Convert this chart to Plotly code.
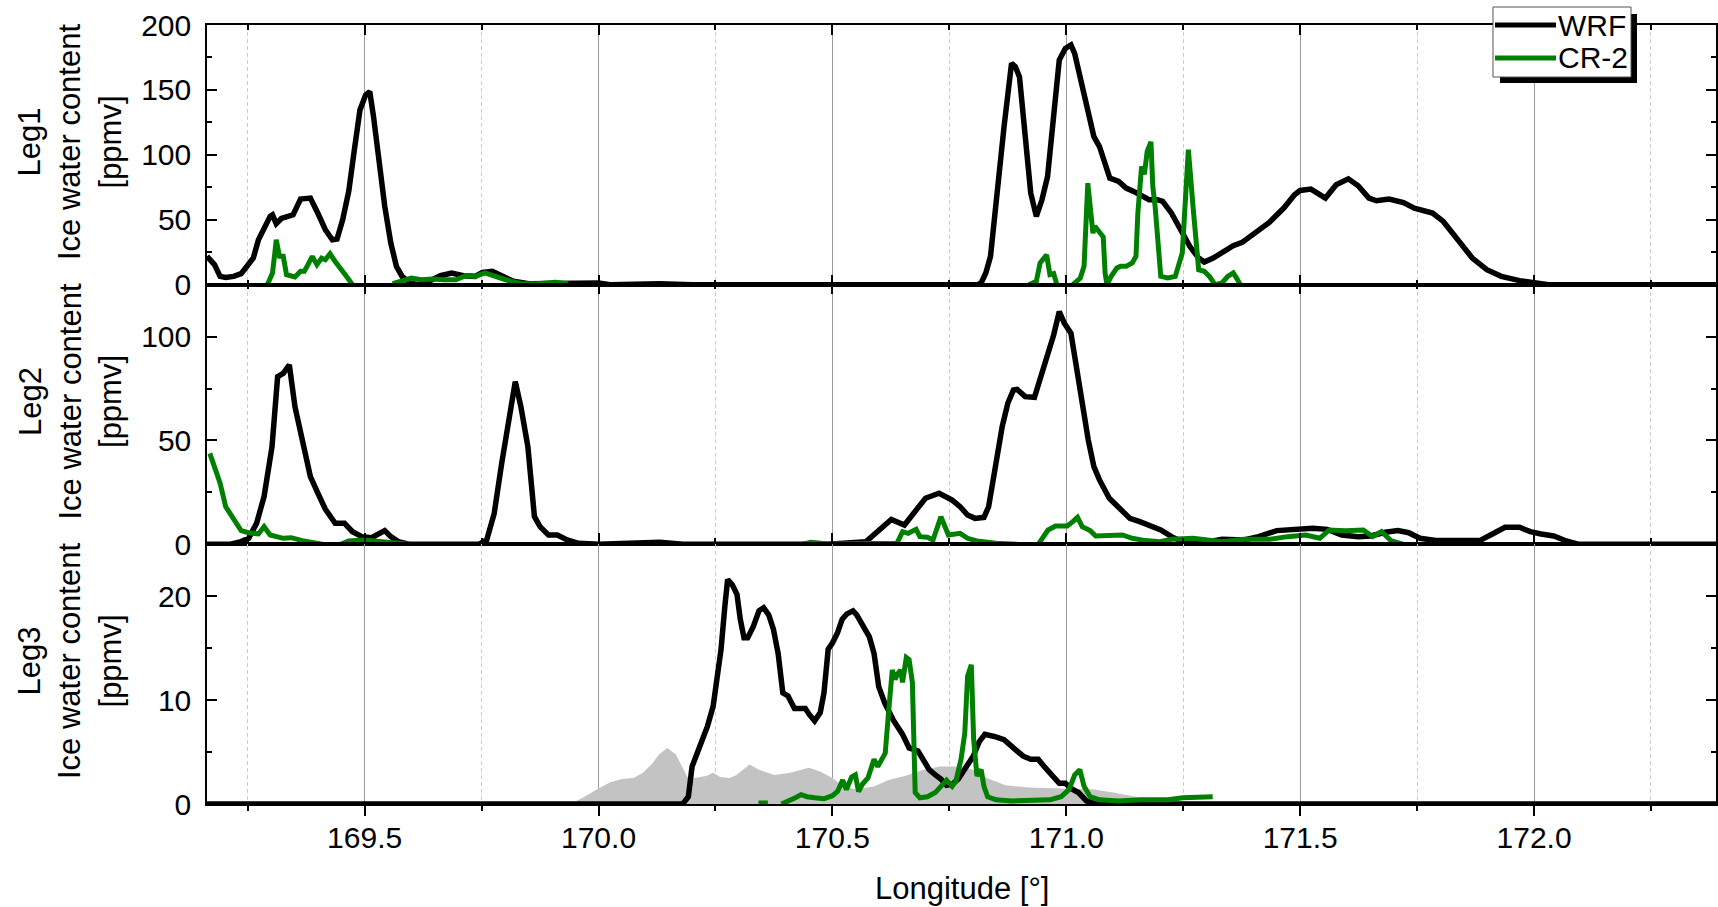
import plotly.graph_objects as go
from plotly.subplots import make_subplots

N = None
# ---------------- Panel 1 (Leg1) ----------------
wrf1_lon = [169.163, 169.179, 169.191, 169.203, 169.22, 169.236, 169.248, 169.262, 169.273, 169.285,
            169.298, 169.303, 169.311, 169.322, 169.336, 169.347, 169.363, 169.384, 169.4, 169.416,
            169.431, 169.441, 169.453, 169.466, 169.478, 169.49, 169.502, 169.511, 169.519, 169.531,
            169.543, 169.556, 169.568, 169.58, 169.597, 169.613, 169.638, 169.662, 169.686, 169.711,
            169.736, 169.752, 169.773, 169.793, 169.818, 169.851, 169.908, 169.949, 170.0, 170.025,
            170.13, 170.2, 170.81, 170.818, 170.828, 170.838, 170.85, 170.867, 170.883, 170.891,
            170.9, 170.912, 170.924, 170.936, 170.948, 170.96, 170.973, 170.985, 170.998, 171.01,
            171.018, 171.03, 171.047, 171.059, 171.071, 171.083, 171.093, 171.112, 171.128, 171.144,
            171.161, 171.177, 171.195, 171.206, 171.225, 171.245, 171.264, 171.283, 171.295, 171.314,
            171.333, 171.357, 171.376, 171.403, 171.434, 171.465, 171.488, 171.5, 171.523, 171.554,
            171.577, 171.603, 171.624, 171.647, 171.663, 171.69, 171.721, 171.744, 171.783, 171.806,
            171.837, 171.868, 171.899, 171.93, 171.969, 172.0, 172.031, 172.389]
wrf1_val = [21.8, 15.4, 6.4, 5.6, 6.4, 8.5, 14, 20.5, 34.6, 43.6,
            52.6, 53.8, 47, 51, 53, 53.8, 66, 66.7, 55, 42.3,
            34.6, 35.1, 50, 71.8, 103.8, 134.6, 146, 148.7, 129.5, 93.6,
            60.3, 32, 14.1, 6.4, 1.3, 0, 2.6, 6.9, 9, 6.9,
            6.4, 9.5, 10.3, 6.9, 2.6, 0.8, 0.8, 1.8, 1.3, 0,
            0.8, 0, 0, 1.3, 9, 21.8, 65.4, 121.8, 170.5, 168,
            160, 116.7, 70.5, 52.6, 65.4, 83.3, 134.6, 173, 182, 184.6,
            178, 160, 134.6, 114, 106.4, 91, 82, 79.5, 74.4, 71.8,
            68, 65.4, 65.4, 64.1, 55.1, 42.3, 29.5, 20.5, 17.4, 20.5,
            24.4, 30, 32.6, 39.2, 48, 59, 69.2, 72.6, 73.6, 66.7,
            77, 81.5, 76.2, 66.7, 64.6, 65.9, 63.3, 59, 55.1, 48.7,
            34.6, 20.5, 11.5, 6.4, 3.1, 1.3, 0, 0]

cr1_lon = [169.292, 169.303, 169.308, 169.311, 169.318, 169.326, 169.333, 169.351, 169.363, 169.371,
           169.375, 169.388, 169.398, 169.408, 169.416, 169.426, 169.437, 169.449, 169.461, 169.474, N,
           169.56, 169.58, 169.6, 169.621, 169.646, 169.67, 169.695, 169.716, 169.736, 169.757,
           169.777, 169.802, 169.834, 169.867, 169.908, 169.935, N,
           170.92, 170.936, 170.944, 170.958, 170.965, 170.973, 170.98, N,
           171.014, 171.03, 171.038, 171.046, 171.057, 171.061, 171.067, 171.079, 171.083, 171.087,
           171.096, 171.108, 171.116, 171.128, 171.141, 171.149, 171.153, 171.161, 171.167, 171.173,
           171.181, 171.185, 171.19, 171.202, 171.217, 171.233, 171.248, 171.261, 171.271, 171.283,
           171.295, 171.306, 171.318, 171.333, 171.345, 171.357, 171.364, 171.372]
cr1_val = [0, 9, 24.4, 34.6, 21.8, 21.8, 7.7, 5.9, 10.3, 10.3,
           12.8, 21.8, 15.4, 20.5, 19.2, 23.8, 17.9, 11.5, 6.4, 0, N,
           0.8, 2.6, 5.1, 3.8, 4.4, 3.8, 3.8, 6.9, 6.4, 9,
           6.4, 3.8, 0.8, 0.8, 1.8, 0.8, N,
           0, 2.6, 16.7, 23, 7.7, 8.5, 0, N,
           0, 5.1, 14.1, 78.2, 39.7, 44.9, 42.3, 36.7, 9, 0,
           6.4, 12.8, 14.1, 14.1, 16.7, 21.8, 55.1, 91, 85, 102.6,
           110, 75.6, 60, 6.4, 5.1, 6.4, 24.4, 104, 60, 11.5,
           10.3, 6.4, 0, 1.3, 6.4, 9, 5.1, 0]

# ---------------- Panel 2 (Leg2) ----------------
wrf2_lon = [169.163, 169.211, 169.236, 169.252, 169.269, 169.285, 169.302, 169.314, 169.326, 169.339,
            169.351, 169.367, 169.384, 169.4, 169.416, 169.437, 169.457, 169.474, 169.494, 169.515,
            169.531, 169.543, 169.556, 169.572, 169.597, 169.744, 169.761, 169.777, 169.793, 169.81,
            169.822, 169.834, 169.849, 169.863, 169.875, 169.893, 169.912, 169.933, 169.957, 170.0,
            170.082, 170.131, 170.18, 170.49, 170.572, 170.589, 170.609, 170.626, 170.654, 170.675,
            170.699, 170.728, 170.756, 170.773, 170.789, 170.805, 170.824, 170.834, 170.85, 170.863,
            170.875, 170.887, 170.895, 170.912, 170.932, 170.944, 170.957, 170.973, 170.985, 170.996,
            171.01, 171.022, 171.034, 171.047, 171.059, 171.071, 171.092, 171.116, 171.136, 171.157,
            171.18, 171.202, 171.225, 171.248, 171.279, 171.333, 171.38, 171.411, 171.45, 171.5,
            171.527, 171.558, 171.589, 171.624, 171.651, 171.682, 171.709, 171.732, 171.756, 171.79,
            171.837, 171.884, 171.911, 171.938, 171.969, 171.992, 172.015, 172.042, 172.069, 172.096,
            172.389]
wrf2_val = [0, 0, 1.3, 2.9, 10.1, 23, 47, 80.7, 82.3, 86.4,
            66.3, 48.6, 32.6, 24.6, 16.9, 10.1, 10.1, 6.1, 3.7, 3.2,
            5.3, 6.6, 3.7, 1.3, 0, 0, 2.1, 14.9, 39, 63.1,
            78.3, 66.3, 47, 13.3, 8.5, 4.5, 4.5, 2.1, 0.5, 0,
            0.5, 1, 0, 0, 1.3, 4.5, 8.5, 12, 9.3, 14.9,
            22.2, 24.6, 21.3, 18.1, 14.1, 12.5, 13, 18.1, 39.8, 56.7,
            67.9, 74.3, 74.6, 71.1, 70.8, 79.1, 88.8, 100.8, 112, 106.4,
            101.6, 85.6, 66.3, 50.2, 37.4, 31, 22.2, 17.3, 12.5, 10.9,
            8.8, 6.9, 3.7, 1.3, 0.2, 2.4, 2.1, 3.7, 6.6, 7.2,
            7.7, 7.2, 4.5, 3.7, 4, 5.8, 6.6, 5.6, 2.9, 1.8,
            2.1, 1.8, 5, 8.2, 8.2, 6.1, 5, 4, 1.6, 0,
            0]

cr2_lon = [169.169, 169.179, 169.191, 169.203, 169.22, 169.236, 169.252, 169.273, 169.285, 169.298,
           169.326, 169.343, 169.367, 169.392, 169.412, N,
           169.449, 169.466, 169.498, 169.539, 169.572, 169.595, N,
           170.435, 170.454, 170.491, 170.54, 170.589, 170.638, 170.65, 170.662, 170.679, 170.687,
           170.703, 170.715, 170.732, 170.748, 170.773, 170.789, 170.809, 170.85, 170.895, N,
           170.94, 170.961, 170.977, 171.002, 171.014, 171.024, 171.034, 171.051, 171.063, 171.087,
           171.12, 171.141, 171.169, 171.2, 171.225, 171.271, 171.333, 171.38, 171.434, 171.473,
           171.512, 171.542, 171.562, 171.597, 171.635, 171.655, 171.674, 171.694, 171.721]
cr2_val = [43.8, 37.4, 29.4, 18.1, 12.5, 6.6, 5.6, 5, 8.5, 4.5,
           2.9, 3.2, 1.8, 1, 0, N,
           0, 1.6, 2.1, 1.3, 0.5, 0, N,
           0, 1, 0.2, 0.5, 0.8, 0.5, 6.1, 5.3, 7.2, 3.7,
           3.4, 2.1, 13.3, 4.5, 5.3, 2.9, 1.6, 0.5, 0, N,
           0, 6.9, 8.8, 8.8, 10.9, 13, 8.5, 6.6, 4, 4,
           4.5, 2.9, 1.8, 1.3, 2.4, 2.9, 1.3, 2.4, 2.4, 3.7,
           4.5, 2.9, 6.9, 6.6, 6.9, 3.7, 6.1, 1.8, 0]

# ---------------- Panel 3 (Leg3) ----------------
wrf3_lon = [169.163, 170.18, 170.192, 170.2, 170.217, 170.233, 170.245, 170.253, 170.262, 170.27,
            170.276, 170.286, 170.296, 170.303, 170.311, 170.319, 170.331, 170.343, 170.353, 170.364,
            170.374, 170.384, 170.394, 170.405, 170.419, 170.429, 170.442, 170.451, 170.462, 170.474,
            170.482, 170.491, 170.5, 170.511, 170.521, 170.531, 170.544, 170.552, 170.564, 170.579,
            170.589, 170.599, 170.612, 170.63, 170.65, 170.664, 170.683, 170.695, 170.707, 170.72,
            170.732, 170.744, 170.756, 170.769, 170.785, 170.801, 170.814, 170.826, 170.846, 170.867,
            170.887, 170.908, 170.924, 170.94, 170.953, 170.969, 170.985, 170.998, 171.01, 171.026,
            171.043, 171.063, 172.389]
wrf3_val = [0, 0, 0.7, 3.6, 5.6, 7.5, 9.4, 11.7, 14.9, 19,
            21.6, 21.1, 20.2, 17.8, 16, 16, 17.1, 18.6, 18.9, 18.2,
            16.8, 14.5, 10.7, 10.4, 9.2, 9.2, 9.2, 8.6, 8.0, 8.8,
            10.7, 14.9, 15.5, 16.5, 17.8, 18.3, 18.6, 18.2, 17.3, 16.1,
            14.5, 11.3, 9.7, 8.1, 6.7, 5.4, 5.1, 4.3, 3.3, 2.8,
            2.4, 1.8, 1.9, 2.4, 3.6, 4.6, 6.0, 6.7, 6.5, 6.2,
            5.4, 4.6, 4.3, 4.3, 3.6, 2.8, 2.0, 2.0, 1.5, 1.1,
            0.3, 0, 0]

cr3_lon = [170.342, 170.362, N,
           170.391, 170.409, 170.421, 170.433, 170.446, 170.462, 170.482, 170.5, 170.511, 170.522,
           170.53, 170.541, 170.549, 170.556, 170.564, 170.576, 170.589, 170.597, 170.605, 170.613,
           170.62, 170.628, 170.634, 170.639, 170.646, 170.65, 170.658, 170.664, 170.671, 170.677,
           170.687, 170.703, 170.72, 170.736, 170.744, 170.756, 170.764, 170.775, 170.783, 170.789,
           170.797, 170.802, 170.809, 170.818, 170.824, 170.832, 170.85, 170.883, 170.924, 170.965,
           170.989, 171.006, 171.018, 171.029, 171.038, 171.051, 171.071, 171.112, 171.161, 171.218,
           171.249, 171.28, 171.313]
cr3_val = [0.1, 0.1, N,
           0, 0.3, 0.6, 0.9, 0.7, 0.6, 0.5, 0.8, 1.2, 2.3,
           1.4, 2.6, 2.8, 1.2, 1.9, 2.5, 4.3, 3.6, 4.3, 4.9,
           8.8, 12.9, 12, 12.5, 12.9, 11.7, 14.1, 13.9, 11.7, 1.1,
           0.6, 0.7, 1.1, 1.9, 2.3, 1.7, 2.2, 4.3, 6.8, 12.3,
           13.4, 6.2, 2.7, 3.3, 1.7, 0.7, 0.4, 0.3, 0.4, 0.4,
           0.7, 1.4, 2.8, 3.3, 1.7, 0.7, 0.4, 0.3, 0.4, 0.4,
           0.6, 0.7, 0.7]

gray3_lon = [169.94, 169.97, 170.0, 170.025, 170.05, 170.075, 170.095, 170.115, 170.13, 170.147,
             170.165, 170.19, 170.205, 170.23, 170.245, 170.26, 170.28, 170.295, 170.323, 170.343,
             170.376, 170.41, 170.45, 170.475, 170.5, 170.523, 170.552, 170.59, 170.62, 170.655,
             170.695, 170.73, 170.77, 170.8, 170.83, 170.87, 170.92, 171.0, 171.06, 171.1,
             171.16, 171.2]
gray3_val = [0, 0.7, 1.5, 2.1, 2.4, 2.5, 3.0, 3.9, 4.8, 5.4,
             4.8, 2.6, 2.5, 2.7, 3.0, 2.6, 2.5, 2.8, 3.8, 3.3,
             2.8, 3.0, 3.5, 3.1, 2.5, 1.7, 1.4, 1.7, 2.3, 2.7,
             3.3, 3.6, 3.6, 3.3, 2.5, 1.8, 1.6, 1.5, 1.4, 1.1,
             0.6, 0]

panel_labels = ["Leg1", "Leg2", "Leg3"]
y_ranges = [[0, 200], [0, 125], [0, 25]]
y_dticks = [50, 50, 10]
y_minor = [25, 25, 5]
x_range = [169.163, 172.389]
series_names = ["WRF", "CR-2"]

WRF_COLOR = "black"
CR_COLOR = "#008000"
FONT = "Liberation Sans, Arial, sans-serif"

W, H = 1718, 907
L, R, T, B = 207, 1716, 25, 804


def pxx(x):
    return (x - L) / (R - L)


def pxy(y):
    return (B - y) / (B - T)


fig = make_subplots(rows=3, cols=1, shared_xaxes=True, vertical_spacing=0)

fig.add_trace(go.Scatter(x=gray3_lon, y=gray3_val, mode="lines", fill="tozeroy",
                         fillcolor="#c3c3c3", line=dict(width=0, color="#c3c3c3"),
                         showlegend=False, hoverinfo="skip"), row=3, col=1)

panels = [(wrf1_lon, wrf1_val, cr1_lon, cr1_val),
          (wrf2_lon, wrf2_val, cr2_lon, cr2_val),
          (wrf3_lon, wrf3_val, cr3_lon, cr3_val)]
for i, (wl, wv, cl, cv) in enumerate(panels):
    fig.add_trace(go.Scatter(x=wl, y=wv, mode="lines", name=series_names[0],
                             line=dict(color=WRF_COLOR, width=5.5), showlegend=False),
                  row=i + 1, col=1)
    fig.add_trace(go.Scatter(x=cl, y=cv, mode="lines", name=series_names[1],
                             line=dict(color=CR_COLOR, width=5), showlegend=False,
                             connectgaps=False),
                  row=i + 1, col=1)

for i in range(3):
    last = (i == 2)
    fig.update_xaxes(
        row=i + 1, col=1, range=x_range, tick0=169.5, dtick=0.5, tickformat=".1f",
        showgrid=True, gridcolor="#9a9a9a", gridwidth=1,
        showline=True, linecolor="black", linewidth=1.5, mirror="ticks",
        ticks="outside" if last else "inside", ticklen=10, tickwidth=1.5, tickcolor="black",
        showticklabels=last, zeroline=False, ticklabelstandoff=-4,
        tickfont=dict(family=FONT, size=30, color="black"),
        minor=dict(tick0=169.25, dtick=0.25, ticks="outside" if last else "inside",
                   ticklen=5, tickwidth=1.5, tickcolor="black",
                   showgrid=True, gridcolor="#cccccc", gridwidth=1, griddash="4px,3px"),
    )
    fig.update_yaxes(
        row=i + 1, col=1, range=y_ranges[i], tick0=0, dtick=y_dticks[i],
        showgrid=False, zeroline=False,
        showline=True, linecolor="black", linewidth=1.5, mirror="ticks",
        ticks="inside", ticklen=10, tickwidth=1.5, tickcolor="black",
        ticklabelstandoff=8,
        tickfont=dict(family=FONT, size=30, color="black"),
        minor=dict(tick0=0, dtick=y_minor[i], ticks="inside", ticklen=5,
                   tickwidth=1.5, tickcolor="black"),
    )

annotations = []
centers = [(25 + 285) / 2 - 13, (285 + 544) / 2 - 13, (544 + 804) / 2 - 13]
for i, lab in enumerate(panel_labels):
    annotations.append(dict(
        text=f"{lab}<br>Ice water content<br>[ppmv]", textangle=-90,
        xref="paper", yref="paper", x=pxx(70), y=pxy(centers[i]),
        xanchor="center", yanchor="middle", showarrow=False,
        font=dict(family=FONT, size=31, color="black")))

annotations.append(dict(
    text="Longitude [°]", xref="paper", yref="paper", x=0.5, y=pxy(888),
    xanchor="center", yanchor="middle", showarrow=False,
    font=dict(family=FONT, size=31, color="black")))

# legend drawn manually (with drop shadow)
shapes = [
    dict(type="rect", xref="paper", yref="paper", x0=pxx(1500), x1=pxx(1637),
         y0=pxy(83), y1=pxy(14), fillcolor="black", line=dict(width=0), layer="above"),
    dict(type="rect", xref="paper", yref="paper", x0=pxx(1493), x1=pxx(1631),
         y0=pxy(77), y1=pxy(7), fillcolor="white", line=dict(color="#555555", width=1),
         layer="above"),
    dict(type="line", xref="paper", yref="paper", x0=pxx(1495), x1=pxx(1556),
         y0=pxy(25), y1=pxy(25), line=dict(color=WRF_COLOR, width=5), layer="above"),
    dict(type="line", xref="paper", yref="paper", x0=pxx(1495), x1=pxx(1556),
         y0=pxy(58), y1=pxy(58), line=dict(color=CR_COLOR, width=5), layer="above"),
]
for name, yy in zip(series_names, [25, 58]):
    annotations.append(dict(
        text=name, xref="paper", yref="paper", x=pxx(1556), y=pxy(yy),
        xanchor="left", yanchor="middle", showarrow=False,
        font=dict(family=FONT, size=30, color="black")))

fig.update_layout(
    width=W, height=H, template="none",
    margin=dict(l=L, r=W - R, t=T, b=H - B, autoexpand=False),
    paper_bgcolor="white", plot_bgcolor="white",
    showlegend=False, annotations=annotations, shapes=shapes,
    font=dict(family=FONT, size=30, color="black"),
)

fig.write_html("out.html")
